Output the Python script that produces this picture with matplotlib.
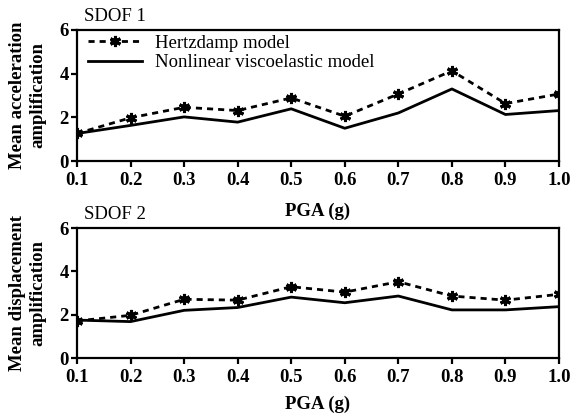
import numpy as np
import matplotlib
matplotlib.use("Agg")
import matplotlib.pyplot as plt

pga = [0.1, 0.2, 0.3, 0.4, 0.5, 0.6, 0.7, 0.8, 0.9, 1.0]

# SDOF 1 - mean acceleration amplification
acc_hertz = [1.26, 1.98, 2.46, 2.31, 2.89, 2.05, 3.07, 4.13, 2.63, 3.07]
acc_visco = [1.26, 1.63, 2.02, 1.78, 2.39, 1.50, 2.20, 3.30, 2.13, 2.31]

# SDOF 2 - mean displacement amplification
disp_hertz = [1.71, 1.97, 2.71, 2.67, 3.29, 3.04, 3.52, 2.86, 2.67, 2.94]
disp_visco = [1.75, 1.68, 2.20, 2.33, 2.81, 2.55, 2.86, 2.22, 2.22, 2.37]

plt.rcParams["font.family"] = ["Liberation Serif", "DejaVu Serif"]

W, H = 574, 419
fig = plt.figure(figsize=(W / 100, H / 100), dpi=100)


def px_axes(l, t, r, b):
    return fig.add_axes([l / W, 1 - b / H, (r - l) / W, (b - t) / H])


def style(ax, title, ylabel, xpad=10):
    ax.set_xlim(0.1, 1.0)
    ax.set_ylim(0, 6)
    ax.set_xticks(pga)
    ax.set_xticklabels([f"{v:.1f}" for v in pga])
    ax.set_yticks([0, 2, 4, 6])
    for s in ax.spines.values():
        s.set_linewidth(1.6)
    ax.tick_params(direction="out", length=4, width=1.6, labelsize=13.5)
    ax.tick_params(axis="x", pad=4)
    ax.tick_params(axis="y", pad=2)
    for lab in ax.get_xticklabels() + ax.get_yticklabels():
        lab.set_fontweight("bold")
    ax.set_xlabel("PGA (g)", fontsize=13.5, fontweight="bold", labelpad=xpad)
    ax.set_ylabel(ylabel, fontsize=13.5, fontweight="bold", linespacing=1.3, labelpad=9)
    ax.text(0.015, 1.04, title, transform=ax.transAxes, fontsize=13.5,
            ha="left", va="bottom")


def draw(ax, hz, vi, legend=False):
    ax.plot(pga, hz, color="black", lw=2.0, ls=(0, (2.2, 1.8)),
            marker=(6, 2, 0), ms=8, mew=2.2, label="Hertzdamp model")
    ax.plot(pga, vi, color="black", lw=2.0, label="Nonlinear viscoelastic model")
    if legend:
        ax.legend(loc="upper left", bbox_to_anchor=(0.013, 1.0), frameon=False,
                  fontsize=13.5, handlelength=2.9, borderaxespad=0.0, borderpad=0.25,
                  labelspacing=0.12, handletextpad=0.7)


ax1 = px_axes(77, 30, 559, 161)
draw(ax1, acc_hertz, acc_visco, legend=True)
style(ax1, "SDOF 1", "Mean acceleration\namplification")

ax2 = px_axes(77, 228, 559, 358)
draw(ax2, disp_hertz, disp_visco)
style(ax2, "SDOF 2", "Mean displacement\namplification", xpad=7)

fig.savefig("out.png", dpi=100)
